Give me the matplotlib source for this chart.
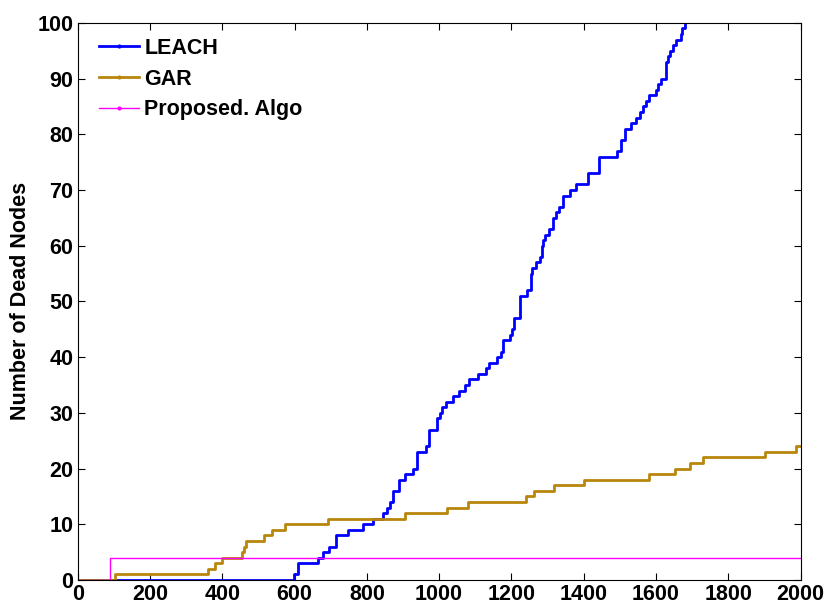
import numpy as np
import matplotlib.pyplot as plt
from matplotlib.lines import Line2D

plt.rcParams['font.family'] = ['Liberation Sans', 'DejaVu Sans']
plt.rcParams['font.weight'] = 'bold'

# 読み取った階段状のデータ (ラウンド, 死亡ノード数)
leach_x = [0, 598, 610, 665, 680, 696, 714, 749, 790, 818, 845, 857, 864, 873, 889,
           906, 928, 938, 965, 973, 993, 1002, 1009, 1018, 1039, 1055, 1071, 1082,
           1108, 1129, 1138, 1159, 1170, 1177, 1196, 1202, 1207, 1225, 1242, 1253,
           1258, 1267, 1279, 1284, 1288, 1294, 1304, 1314, 1323, 1332, 1343, 1362,
           1380, 1412, 1442, 1493, 1502, 1514, 1530, 1546, 1556, 1565, 1571, 1580,
           1601, 1606, 1613, 1627, 1634, 1640, 1646, 1654, 1668, 1673, 1680]
leach_y = [0, 1, 3, 4, 5, 6, 8, 9, 10, 11, 12, 13, 14, 16, 18,
           19, 20, 23, 24, 27, 29, 30, 31, 32, 33, 34, 35, 36,
           37, 38, 39, 40, 41, 43, 44, 45, 47, 51, 52, 55,
           56, 57, 58, 60, 61, 62, 63, 65, 66, 67, 69, 70,
           71, 73, 76, 77, 79, 81, 82, 83, 84, 85, 86, 87,
           88, 89, 90, 93, 94, 95, 96, 97, 98, 99, 100]

gar_x = [0, 103, 361, 380, 398, 455, 460, 465, 515, 538, 573, 693, 905, 1023,
         1081, 1240, 1263, 1318, 1400, 1580, 1653, 1694, 1729, 1901, 1986, 2000]
gar_y = [0, 1, 2, 3, 4, 5, 6, 7, 8, 9, 10, 11, 12, 13,
         14, 15, 16, 17, 18, 19, 20, 21, 22, 23, 24, 24]

prop_x = [0, 90, 2000]
prop_y = [0, 4, 4]

names = ['LEACH', 'GAR', 'Proposed. Algo']
colors = ['#0000ff', '#b8860b', '#ff00ff']
widths = [2.0, 2.0, 1.0]

fig = plt.figure(figsize=(8.29, 6.05), dpi=100)
ax = fig.add_axes([0.0937, 0.0413, 0.872, 0.921])

series = [(leach_x, leach_y), (gar_x, gar_y), (prop_x, prop_y)]
for (xs, ys), c, w in zip(series, colors, widths):
    ax.plot(xs, ys, drawstyle='steps-post', color=c, lw=w)

ax.set_xlim(0, 2000)
ax.set_ylim(0, 100)
ax.set_xticks(np.arange(0, 2001, 200))
ax.set_yticks(np.arange(0, 101, 10))
ax.tick_params(direction='in', top=True, right=True, labelsize=15.5, length=5, width=0.8, pad=3)
for lab in ax.get_xticklabels() + ax.get_yticklabels():
    lab.set_fontweight('bold')
ax.set_ylabel('Number of Dead Nodes', fontsize=15.5, fontweight='bold', labelpad=5)

handles = [Line2D([], [], color=c, lw=w, marker='.', markersize=4) for c, w in zip(colors, widths)]
ax.legend(handles, names, loc='upper left', frameon=False, fontsize=15.5,
          handlelength=1.85, handletextpad=0.25, labelspacing=0.45,
          bbox_to_anchor=(0.011, 0.997), borderaxespad=0.22)

fig.savefig('out.png', dpi=100)
